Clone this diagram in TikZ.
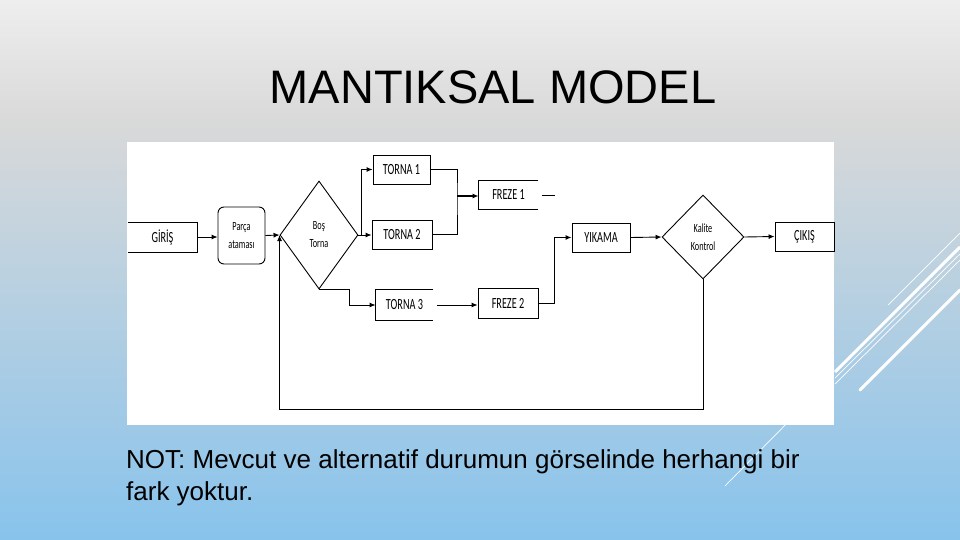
\documentclass[tikz,border=0pt]{standalone}
\usepackage{fontspec}
\setmainfont{Liberation Sans}
\newfontfamily\diafont[FakeStretch=0.66]{Carlito}
\usetikzlibrary{shapes.geometric,arrows.meta,calc}
\definecolor{slidetop}{HTML}{EEEEEE}
\definecolor{slidemid}{HTML}{D9D9D9}
\definecolor{slidebot}{HTML}{88C3EC}

\tikzset{
  box/.style={draw, line width=0.9pt, minimum width=58pt, minimum height=29pt, inner sep=0pt,
    font=\diafont\fontsize{15.5}{17}\selectfont},
  openbox/.style={box, draw=none},
  decision/.style={diamond, draw, line width=0.9pt, inner sep=0pt, align=center,
    font=\diafont\fontsize{12.5}{18}\selectfont},
  link/.style={line width=0.9pt},
  deco/.style={white, line width=0.7pt},
}

\begin{document}
\begin{tikzpicture}[x=1pt,y=-1pt]
  \tikzset{>={Latex[length=6pt,width=5pt]}}
  \useasboundingbox (0,0) rectangle (960,540);
  \shade[top color=slidetop, bottom color=slidemid] (0,0) rectangle (960,121);
  \shade[top color=slidemid, bottom color=slidebot] (0,120) rectangle (960,540);

  \draw[deco] (960,233) -- (888,305);
  \draw[deco, line width=3pt] (960,247) -- (835,372);
  \draw[deco] (960,254) -- (835,378);
  \draw[deco] (960,260) -- (835,384);
  \draw[deco, line width=3pt, line cap=round] (960,290) -- (860,390);
  \draw[deco] (800,410) -- (725,486);

  \fill[white] (127,142) rectangle (834,425);

  \node[font=\fontsize{47}{56}\selectfont, anchor=base] (title) at (493,104) {MANTIKSAL MODEL};

  \node[openbox, minimum width=69pt] (giris) at (162.5,237) {GİRİŞ};
  \node[box, rounded corners=6pt, minimum width=47pt, minimum height=57pt, align=center,
    font=\diafont\fontsize{12.5}{18}\selectfont] (parca) at (241.5,235.5) {Parça\\ataması};
  \node[decision, minimum width=78pt, minimum height=108pt] (bos) at (319,235) {Boş\\Torna};
  \node[box, minimum width=57pt] (torna1) at (401.5,169.5) {TORNA 1};
  \node[box, minimum width=60pt] (torna2) at (402,234.5) {TORNA 2};
  \node[openbox, minimum width=57pt, minimum height=30pt] (torna3) at (404.5,305) {TORNA 3};
  \node[openbox, minimum width=59pt, minimum height=28pt] (freze1) at (508.5,195) {FREZE 1};
  \node[box, minimum width=60pt, minimum height=30pt] (freze2) at (508,303) {FREZE 2};
  \node[box] (yikama) at (601,237.5) {YIKAMA};
  \node[decision, minimum width=82pt, minimum height=84pt] (kalite) at (703,237) {Kalite\\Kontrol};
  \node[box, minimum width=59pt] (cikis) at (804.5,236.5) {ÇIKIŞ};

  \draw[link] (giris.north west) -- (giris.north east) -- (giris.south east) -- (giris.south west);
  \draw[link] (torna3.north east) -- (torna3.north west) -- (torna3.south west) -- (torna3.south east);
  \draw[link] (freze1.north east) -- (freze1.north west) -- (freze1.south west) -- (freze1.south east);

  \draw[link,->] (giris.east) -- (giris.east -| parca.west);
  \draw[link,->] (parca.east) -- (bos.west);
  \draw[link,->] (bos.east) -- ++(3,0) |- (torna1.west);
  \draw[link,->] (bos.east) -- (bos.east -| torna2.west);
  \draw[link,->] (bos.south) -- ++(30,0) |- (torna3.west);

  \coordinate (merge) at (457,196);
  \draw[link] (torna1.east) -| (merge) |- (torna2.east);
  \draw[link,->,line width=1.8pt] (merge) -- (merge -| freze1.west);
  \coordinate (f1out) at (542,195);
  \draw[link] (f1out) -- ++(13,0);

  \draw[link,->] ([xshift=4pt]torna3.east) -- (torna3.east -| freze2.west);
  \coordinate (wash) at (554,237.5);
  \draw[link] (freze2.east) -| (wash);
  \draw[link,->,line width=1.8pt] (wash) -- (yikama.west);

  \draw[link,->] (yikama.east) -- (kalite.west);
  \draw[link,->] (kalite.east) -- (cikis.west);
  \draw[link,->] (kalite.south) -- ++(0,130) -| (bos.west);

  \node[anchor=north west, inner sep=0pt, align=left, font=\fontsize{26}{32}\selectfont] (note) at (126,449)
    {NOT: Mevcut ve alternatif durumun görselinde herhangi bir\\fark yoktur.};
\end{tikzpicture}
\end{document}
